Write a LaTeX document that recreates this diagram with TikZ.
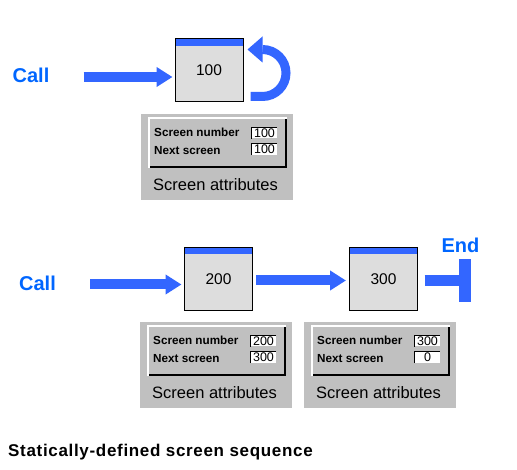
\documentclass[tikz,border=0pt]{standalone}
\usepackage{fontspec}
\setmainfont{Liberation Sans}
\usetikzlibrary{arrows.meta}
\definecolor{ablue}{RGB}{51,102,255}
\definecolor{tblue}{RGB}{0,102,255}
\definecolor{boxgray}{RGB}{221,221,221}
\definecolor{panelgray}{RGB}{192,192,192}
\newcommand\attrpanel[5]{%
  \node[panel] (#1) at (#2,#3) {};
  \fill[white] ([shift={(7pt,-3pt)}]#1.north west) rectangle ([shift={(146pt,-54pt)}]#1.north west);
  \fill[black] ([shift={(9pt,-5pt)}]#1.north west) rectangle ([shift={(146pt,-54pt)}]#1.north west);
  \fill[panelgray] ([shift={(9pt,-5pt)}]#1.north west) rectangle ([shift={(144pt,-52pt)}]#1.north west);
  \node[attrlabel] (#1-sn) at ([shift={(13pt,-18pt)}]#1.north west) {Screen number};
  \node[attrlabel] (#1-ns) at ([shift={(13pt,-36.5pt)}]#1.north west) {Next screen};
  \node[valbox] (#1-v1) at ([shift={(123.5pt,-19pt)}]#1.north west) {#4};
  \node[valbox] (#1-v2) at ([shift={(123.5pt,-35.5pt)}]#1.north west) {#5};
  \draw[valedge] (#1-v1.south west) -- (#1-v1.north west) -- (#1-v1.north east);
  \draw[valedge] (#1-v2.south west) -- (#1-v2.north west) -- (#1-v2.north east);
  \node[attrtitle] (#1-t) at ([shift={(12pt,-70.5pt)}]#1.north west) {Screen attributes};
}
\begin{document}
\begin{tikzpicture}[x=1pt,y=1pt,
  screenbox/.style={draw=black, line width=1pt, fill=boxgray, minimum width=68pt,
    minimum height=63pt, inner sep=0pt, font=\fontsize{15.5}{15.5}\selectfont,
    path picture={\fill[ablue] (path picture bounding box.north west) rectangle
      ([yshift=-7pt]path picture bounding box.north east);}},
  calltext/.style={text=tblue, font=\fontsize{20}{20}\selectfont\bfseries, inner sep=0pt},
  flow/.style={draw=ablue, line width=10pt, -{Triangle[length=16pt,width=19pt]}},
  loopline/.style={draw=ablue, line width=9pt},
  panel/.style={fill=panelgray, minimum width=152pt, minimum height=86pt, inner sep=0pt, anchor=north west},
  attrlabel/.style={anchor=west, inner sep=0pt, font=\fontsize{11.7}{11.7}\selectfont\bfseries},
  attrtitle/.style={anchor=west, inner sep=0pt, font=\fontsize{16.5}{16.5}\selectfont},
  valbox/.style={fill=white, minimum width=25pt, minimum height=11pt, inner sep=0pt,
    font=\fontsize{12.5}{12.5}\selectfont},
  valedge/.style={draw=black, line width=1.3pt},
  caption/.style={anchor=west, inner sep=0pt,
    font=\fontsize{17}{17}\selectfont\bfseries\addfontfeature{LetterSpace=4}}
]
\fill[white] (0,0) rectangle (517,-470);
\useasboundingbox (0,0) rectangle (517,-470);

% top sequence
\node[calltext] (call1) at (31,-75) {Call};
\node[screenbox] (s100) at (209,-70.5) {100};
\coordinate (a1s) at ([shift={(34pt,-2pt)}]call1.east);
\draw[flow, shorten >=2pt] (a1s) -- (a1s -| s100.west);
\draw[loopline] ([shift={(19pt,21pt)}]s100.east) arc[start angle=90, end angle=-90, radius=23.5] -- ++(-12,0);
\fill[ablue] ([shift={(4pt,21pt)}]s100.east) -- ([shift={(19pt,34pt)}]s100.east) -- ([shift={(19pt,8pt)}]s100.east) -- cycle;
\attrpanel{p1}{141}{-114}{100}{100}

% bottom sequence
\node[calltext] (call2) at (37.5,-283) {Call};
\node[screenbox] (s200) at (218.5,-279) {200};
\node[screenbox] (s300) at (383.5,-279) {300};
\coordinate (a2s) at ([shift={(34pt,-1.5pt)}]call2.east);
\draw[flow, shorten >=2.5pt] (a2s) -- (a2s -| s200.west);
\coordinate (a3s) at ([shift={(3pt,-1.5pt)}]s200.east);
\draw[flow, shorten >=3pt] (a3s) -- (a3s -| s300.west);
\coordinate (endbar) at (465,-280.5);
\coordinate (a4s) at ([shift={(6.5pt,-1.5pt)}]s300.east);
\draw[draw=ablue, line width=11pt] (a4s) -- (endbar);
\fill[ablue] ([shift={(-6pt,21.5pt)}]endbar) rectangle ([shift={(6pt,-21.5pt)}]endbar);
\node[calltext] (endtxt) at (460.5,-245) {End};
\attrpanel{p2}{140}{-322}{200}{300}
\attrpanel{p3}{304}{-322}{300}{0}

\node[caption] (cap) at (8,-452) {Statically-defined screen sequence};
\end{tikzpicture}
\end{document}
